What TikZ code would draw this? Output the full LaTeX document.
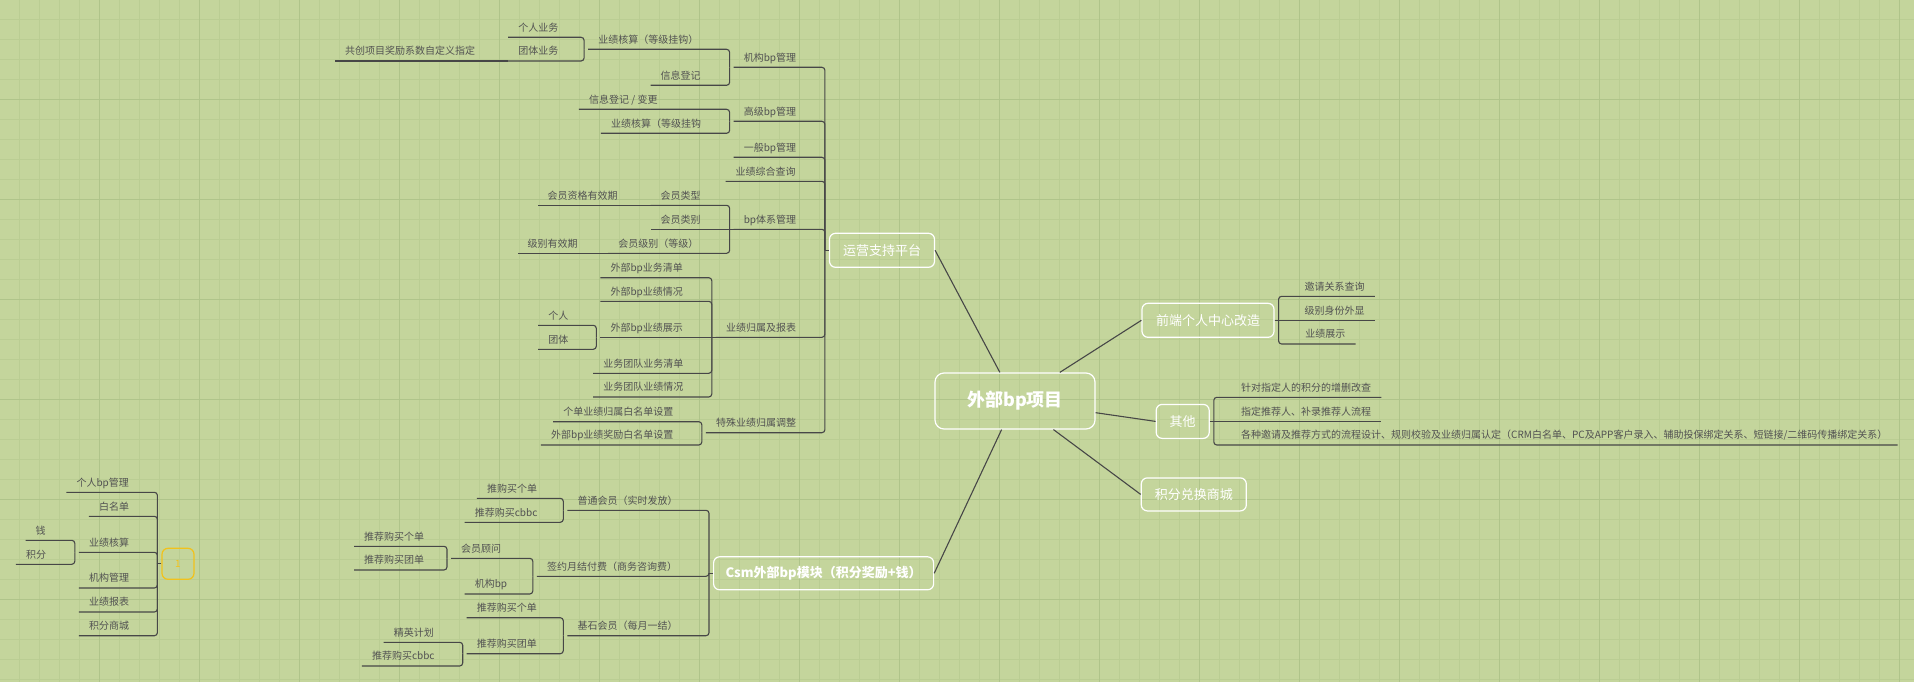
\documentclass[tikz,border=0pt]{standalone}
\usepackage{fontspec}
\setmainfont{Noto Sans CJK SC}

\definecolor{paper}{HTML}{C4D59C}
\definecolor{gridminor}{HTML}{BACD93}
\definecolor{gridmajor}{HTML}{AFC48A}
\definecolor{inkline}{HTML}{474747}
\definecolor{inktext}{HTML}{525252}
\definecolor{tagyellow}{HTML}{F2C21B}

\tikzset{
  topic/.style={draw=white, line width=1.2pt, rounded corners=6pt, text=white,
    font=\fontsize{13}{15}\selectfont, inner sep=0pt, minimum height=34pt},
  leaf/.style={text=inktext, font=\fontsize{10}{12}\selectfont, inner xsep=10pt,
    inner ysep=4pt, text height=8pt, text depth=2pt, anchor=south},
  link/.style={draw=inkline, line width=1.1pt, rounded corners=3pt},
  trunk/.style={draw=inkline, line width=1.1pt},
}

\begin{document}
\begin{tikzpicture}[x=1pt,y=-1pt]
  \useasboundingbox (0,0) rectangle (1914,682);
  \fill[paper] (0,0) rectangle (1914,682);
% grid paper
  \foreach \g in {19.5,39.5,...,1914} \draw[gridminor, line width=0.9pt] (\g,0) -- (\g,682);
  \foreach \g in {19.5,39.5,...,682} \draw[gridminor, line width=0.9pt] (0,\g) -- (1914,\g);
  \foreach \g in {99.5,199.5,...,1914} \draw[gridmajor, line width=1pt] (\g,0) -- (\g,682);
  \foreach \g in {99.5,199.5,...,682} \draw[gridmajor, line width=1pt] (0,\g) -- (1914,\g);

% main topics
  \node[topic, font=\fontsize{18}{20}\selectfont\bfseries, minimum width=160pt, minimum height=56pt, rounded corners=9pt] (main) at (1015,401) {外部bp项目};
  \node[topic, minimum width=105pt] (yy) at (882,250.3) {运营支持平台};
  \node[topic, minimum width=132pt] (qd) at (1208,320.3) {前端个人中心改造};
  \node[topic, minimum width=53pt] (qt) at (1182.7,421.4) {其他};
  \node[topic, minimum width=105pt, minimum height=33pt] (jfdh) at (1193.8,494.4) {积分兑换商城};
  \node[topic, font=\fontsize{13}{15}\selectfont\bfseries, minimum width=220pt, minimum height=33pt] (csm) at (823.6,573.3) {Csm外部bp模块（积分奖励+钱）};
  \node[draw=tagyellow, text=tagyellow, line width=1.2pt, rounded corners=6pt, minimum width=32pt, minimum height=31pt, font=\fontsize{10}{12}\selectfont] (one) at (178,563.8) {1};

  \draw[trunk] (main) -- (yy.east);
  \draw[trunk] (main) -- (qd.west);
  \draw[trunk] (main) -- (qt.west);
  \draw[trunk] (main) -- (jfdh.west);
  \draw[trunk] (main) -- (csm.east);

% 运营支持平台
  \node[leaf] (jg) at (770,67.3) {机构bp管理};
  \node[leaf] (jgyj) at (648.3,49.3) {业绩核算（等级挂钩）};
  \node[leaf] (gryw) at (538.3,37.3) {个人业务};
  \node[leaf] (ttyw) at (538.3,61) {团体业务};
  \node[leaf] (gcxm) at (410,61) {共创项目奖励系数自定义指定};
  \node[leaf] (jgxx) at (680.7,85.3) {信息登记};
  \node[leaf] (gj) at (770,121.3) {高级bp管理};
  \node[leaf] (gjxx) at (623.3,109.3) {信息登记 / 变更};
  \node[leaf] (gjyj) at (656,133.3) {业绩核算（等级挂钩};
  \node[leaf] (yb) at (770,157.3) {一般bp管理};
  \node[leaf] (zh) at (765.7,181.3) {业绩综合查询};
  \node[leaf] (tx) at (770,229.3) {bp体系管理};
  \node[leaf] (lx) at (680.7,205.3) {会员类型};
  \node[leaf] (zg) at (582.7,205.3) {会员资格有效期};
  \node[leaf] (lb) at (680.7,229.3) {会员类别};
  \node[leaf] (jb) at (658.3,253.3) {会员级别（等级）};
  \node[leaf] (jbyx) at (552.7,253.3) {级别有效期};
  \node[leaf] (bb) at (761,337.3) {业绩归属及报表};
  \node[leaf] (wbqd) at (646.7,277.7) {外部bp业务清单};
  \node[leaf] (wbqk) at (646.7,301.3) {外部bp业绩情况};
  \node[leaf] (wbzs) at (646.7,337.3) {外部bp业绩展示};
  \node[leaf] (gr) at (558.3,325.3) {个人};
  \node[leaf] (tt) at (558.3,349.3) {团体};
  \node[leaf] (tdqd) at (643.3,373.3) {业务团队业务清单};
  \node[leaf] (tdqk) at (643.3,397) {业务团队业绩情况};
  \node[leaf] (ts) at (756,432.7) {特殊业绩归属调整};
  \node[leaf] (bm1) at (618.3,421.7) {个单业绩归属白名单设置};
  \node[leaf] (bm2) at (612.3,445) {外部bp业绩奖励白名单设置};

  \draw[link] (yy.west) -- ++(-4,0);
  \foreach \c in {jg,gj,yb,zh,tx,bb,ts}
    \draw[link] ([xshift=-4pt]yy.west) |- (\c.south east) -- (\c.south west);
  \foreach \c in {jgyj,jgxx}
    \draw[link] ([xshift=-4pt]jg.south west) |- (\c.south east) -- (\c.south west);
  \foreach \c in {gryw,ttyw}
    \draw[link] ([xshift=-4pt]jgyj.south west) |- (\c.south east) -- (\c.south west);
  \draw[link] (ttyw.south west) -- (gcxm.south east) -- (gcxm.south west);
  \foreach \c in {gjxx,gjyj}
    \draw[link] ([xshift=-4pt]gj.south west) |- (\c.south east) -- (\c.south west);
  \foreach \c in {lx,jb}
    \draw[link] ([xshift=-4pt]tx.south west) |- (\c.south east) -- (\c.south west);
  \draw[link] (tx.south west) -- (lb.south west);
  \draw[link] (lx.south west) -- (zg.south west);
  \draw[link] (jb.south west) -- (jbyx.south west);
  \foreach \c in {wbqd,wbqk,tdqd,tdqk}
    \draw[link] ([xshift=-4pt]bb.south west) |- (\c.south east) -- (\c.south west);
  \draw[link] (bb.south west) -- (wbzs.south west);
  \foreach \c in {gr,tt}
    \draw[link] ([xshift=-4pt]wbzs.south west) |- (\c.south east) -- (\c.south west);
  \foreach \c in {bm1,bm2}
    \draw[link] ([xshift=-4pt]ts.south west) |- (\c.south east) -- (\c.south west);

% Csm module
  \node[leaf] (pt) at (627.5,510.3) {普通会员（实时发放）};
  \node[leaf] (pt1) at (512,498.3) {推购买个单};
  \node[leaf] (pt2) at (506.1,522.3) {推荐购买cbbc};
  \node[leaf] (qy) at (612,576.3) {签约月结付费（商务咨询费）};
  \node[leaf] (gw) at (481.2,558.3) {会员顾问};
  \node[leaf] (gw1) at (394.2,546.3) {推荐购买个单};
  \node[leaf] (gw2) at (394.2,570) {推荐购买团单};
  \node[leaf] (jgbp) at (491,594) {机构bp};
  \node[leaf] (js) at (627.5,635.7) {基石会员（每月一结）};
  \node[leaf] (js1) at (506.9,617.7) {推荐购买个单};
  \node[leaf] (js2) at (506.9,653.7) {推荐购买团单};
  \node[leaf] (jy) at (413.9,642.3) {精英计划};
  \node[leaf] (cb) at (403.3,666) {推荐购买cbbc};

  \draw[link] (csm.west) -- ++(-4,0);
  \foreach \c in {pt,qy,js}
    \draw[link] ([xshift=-4pt]csm.west) |- (\c.south east) -- (\c.south west);
  \foreach \c in {pt1,pt2}
    \draw[link] ([xshift=-4pt]pt.south west) |- (\c.south east) -- (\c.south west);
  \foreach \c in {gw,jgbp}
    \draw[link] ([xshift=-4pt]qy.south west) |- (\c.south east) -- (\c.south west);
  \foreach \c in {gw1,gw2}
    \draw[link] ([xshift=-4pt]gw.south west) |- (\c.south east) -- (\c.south west);
  \foreach \c in {js1,js2}
    \draw[link] ([xshift=-4pt]js.south west) |- (\c.south east) -- (\c.south west);
  \foreach \c in {jy,cb}
    \draw[link] ([xshift=-4pt]js2.south west) |- (\c.south east) -- (\c.south west);

% floating topic
  \node[leaf] (grbp) at (102.7,492.3) {个人bp管理};
  \node[leaf] (bmd) at (114,516.3) {白名单};
  \node[leaf] (yjhs) at (109,552.3) {业绩核算};
  \node[leaf] (qian) at (40.7,540.3) {钱};
  \node[leaf] (jf) at (36,564.3) {积分};
  \node[leaf] (jggl) at (109,588) {机构管理};
  \node[leaf] (yjbb) at (109,612) {业绩报表};
  \node[leaf] (jfsc) at (109,635.7) {积分商城};

  \draw[link] (one.west) -- ++(-4,0);
  \foreach \c in {grbp,bmd,yjhs,jggl,yjbb,jfsc}
    \draw[link] ([xshift=-4pt]one.west) |- (\c.south east) -- (\c.south west);
  \foreach \c in {qian,jf}
    \draw[link] ([xshift=-4pt]yjhs.south west) |- (\c.south east) -- (\c.south west);

% right side
  \node[leaf] (yq) at (1334.6,296.3) {邀请关系查询};
  \node[leaf] (sf) at (1334.6,320.3) {级别身份外显};
  \node[leaf] (zs) at (1325.3,344) {业绩展示};
  \node[leaf] (zd) at (1306.1,397.3) {针对指定人的积分的增删改查};
  \node[leaf] (tj) at (1306,421.4) {指定推荐人、补录推荐人流程};
  \node[leaf, anchor=south west] (gz) at (1231,445) {各种邀请及推荐方式的流程设计、规则校验及业绩归属认定（CRM白名单、PC及APP客户录入、辅助投保绑定关系、短链接/二维码传播绑定关系）};

  \draw[link] (qd.east) -- ++(4,0);
  \foreach \c in {yq,zs}
    \draw[link] ([xshift=4pt]qd.east) |- (\c.south west) -- (\c.south east);
  \draw[link] (qd.east) -- (sf.south east);
  \draw[link] (qt.east) -- ++(4,0);
  \foreach \c in {zd,gz}
    \draw[link] ([xshift=4pt]qt.east) |- (\c.south west) -- (\c.south east);
  \draw[link] (qt.east) -- (tj.south east);
\end{tikzpicture}
\end{document}
